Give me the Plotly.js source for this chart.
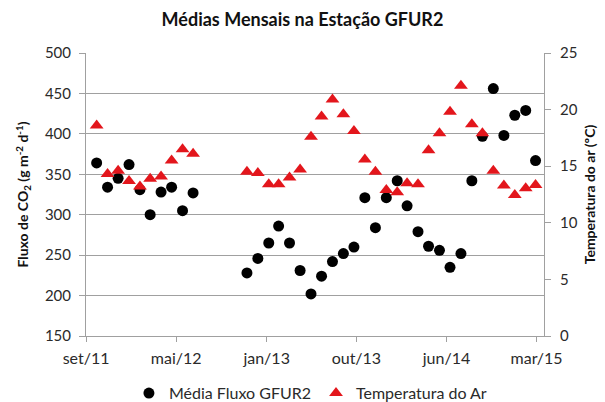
<!DOCTYPE html>
<html>
<head>
<meta charset="utf-8">
<script src="https://cdn.plot.ly/plotly-3.0.1.min.js"></script>
<style>html,body{margin:0;padding:0;background:#fff;}#chart{width:605px;height:402px;}</style>
</head>
<body>
<div id="chart"></div>
<script>
// Monthly dates of the observations
var dates = [
  "2011-10-01","2011-11-01","2011-12-01","2012-01-01","2012-02-01",
  "2012-03-01","2012-04-01","2012-05-01","2012-06-01","2012-07-01",
  "2012-12-01","2013-01-01","2013-02-01","2013-03-01","2013-04-01",
  "2013-05-01","2013-06-01","2013-07-01","2013-08-01","2013-09-01",
  "2013-10-01","2013-11-01","2013-12-01","2014-01-01","2014-02-01",
  "2014-03-01","2014-04-01","2014-05-01","2014-06-01","2014-07-01",
  "2014-08-01","2014-09-01","2014-10-01","2014-11-01","2014-12-01",
  "2015-01-01","2015-02-01","2015-03-01"
];
// Média Fluxo GFUR2 (g m-2 d-1)
var fluxo = [
  364, 334, 345, 362, 331, 300, 328, 334, 305, 327,
  228, 246, 265, 286, 265, 231, 202, 224, 242, 252,
  260, 321, 284, 321, 342, 311, 279, 261, 256, 235,
  252, 342, 397, 456, 398, 423, 429, 367
];
// Temperatura do Ar (ºC)
var temperatura = [
  18.6, 14.3, 14.6, 13.7, 13.2, 13.9, 14.1, 15.5, 16.5, 16.1,
  14.5, 14.4, 13.4, 13.4, 14.0, 14.7, 17.6, 19.4, 20.9, 19.6,
  18.1, 15.6, 14.5, 12.9, 12.7, 13.5, 13.4, 16.4, 17.9, 19.8,
  22.1, 18.7, 17.9, 14.6, 13.3, 12.45, 13.05, 13.35
];
// X-axis tick labels
var xTickVals = ["2011-09-01","2012-05-14","2013-01-26","2013-10-08","2014-06-21","2015-03-04"];
var xTickText = ["set/11","mai/12","jan/13","out/13","jun/14","mar/15"];

var FONT = "Lato, 'Open Sans', sans-serif";
var GRAY = "#a0a0a0";
var TXT = "#2a2a2a";

var traces = [
  {
    x: dates, y: fluxo, type: "scatter", mode: "markers",
    name: "Média Fluxo GFUR2", yaxis: "y",
    marker: {symbol: "circle", size: 11, color: "#000000"}
  },
  {
    x: dates, y: temperatura, type: "scatter", mode: "markers",
    name: "Temperatura do Ar", yaxis: "y2",
    marker: {symbol: "triangle-up", size: 12, color: "#e3161c"}
  }
];

var layout = {
  width: 605, height: 402,
  margin: {l: 86, r: 61, t: 53, b: 66, autoexpand: false},
  paper_bgcolor: "#ffffff", plot_bgcolor: "#ffffff",
  font: {family: FONT, color: TXT, size: 14},
  title: {
    text: "<b>Médias Mensais na Estação GFUR2</b>",
    font: {family: FONT, size: 18, color: "#111111"},
    x: 0.5, xanchor: "center", y: 0.95, yanchor: "middle"
  },
  showlegend: true,
  legend: {
    orientation: "h", x: 0.49, xanchor: "center",
    yref: "container", y: 0.022, yanchor: "middle",
    font: {family: FONT, size: 16, color: TXT}, itemwidth: 30
  },
  xaxis: {
    type: "date", automargin: false,
    range: ["2011-08-31 18:00", "2015-03-25"],
    tickmode: "array", tickvals: xTickVals, ticktext: xTickText,
    showgrid: false, zeroline: false,
    showline: true, linecolor: GRAY, linewidth: 1,
    ticks: "outside", ticklen: 5, tickcolor: GRAY, ticklabelstandoff: 3,
    tickfont: {family: FONT, size: 16, color: TXT}
  },
  yaxis: {
    automargin: false,
    range: [150, 500], dtick: 50, tick0: 150,
    showgrid: true, gridcolor: GRAY, gridwidth: 1, zeroline: false,
    showline: true, linecolor: GRAY, linewidth: 1,
    ticks: "outside", ticklen: 6, tickcolor: GRAY, ticklabelstandoff: 5,
    tickfont: {family: FONT, size: 15, color: TXT},
    title: {
      text: "<b>Fluxo de CO<sub>2</sub> (g m<sup>-2</sup> d<sup>-1</sup>)</b>",
      font: {family: FONT, size: 14, color: "#111111"}, standoff: 12
    }
  },
  yaxis2: {
    automargin: false,
    overlaying: "y", side: "right",
    range: [0, 25], dtick: 5, tick0: 0,
    showgrid: false, zeroline: false,
    showline: true, linecolor: GRAY, linewidth: 1,
    ticks: "outside", ticklen: 6, tickcolor: GRAY, ticklabelstandoff: 6,
    tickfont: {family: FONT, size: 15, color: TXT},
    title: {
      text: "<b>Temperatura do ar (ºC)</b>",
      font: {family: FONT, size: 14, color: "#111111"}, standoff: 8
    }
  }
};

Plotly.newPlot("chart", traces, layout, {displayModeBar: false, staticPlot: true});
</script>
</body>
</html>
